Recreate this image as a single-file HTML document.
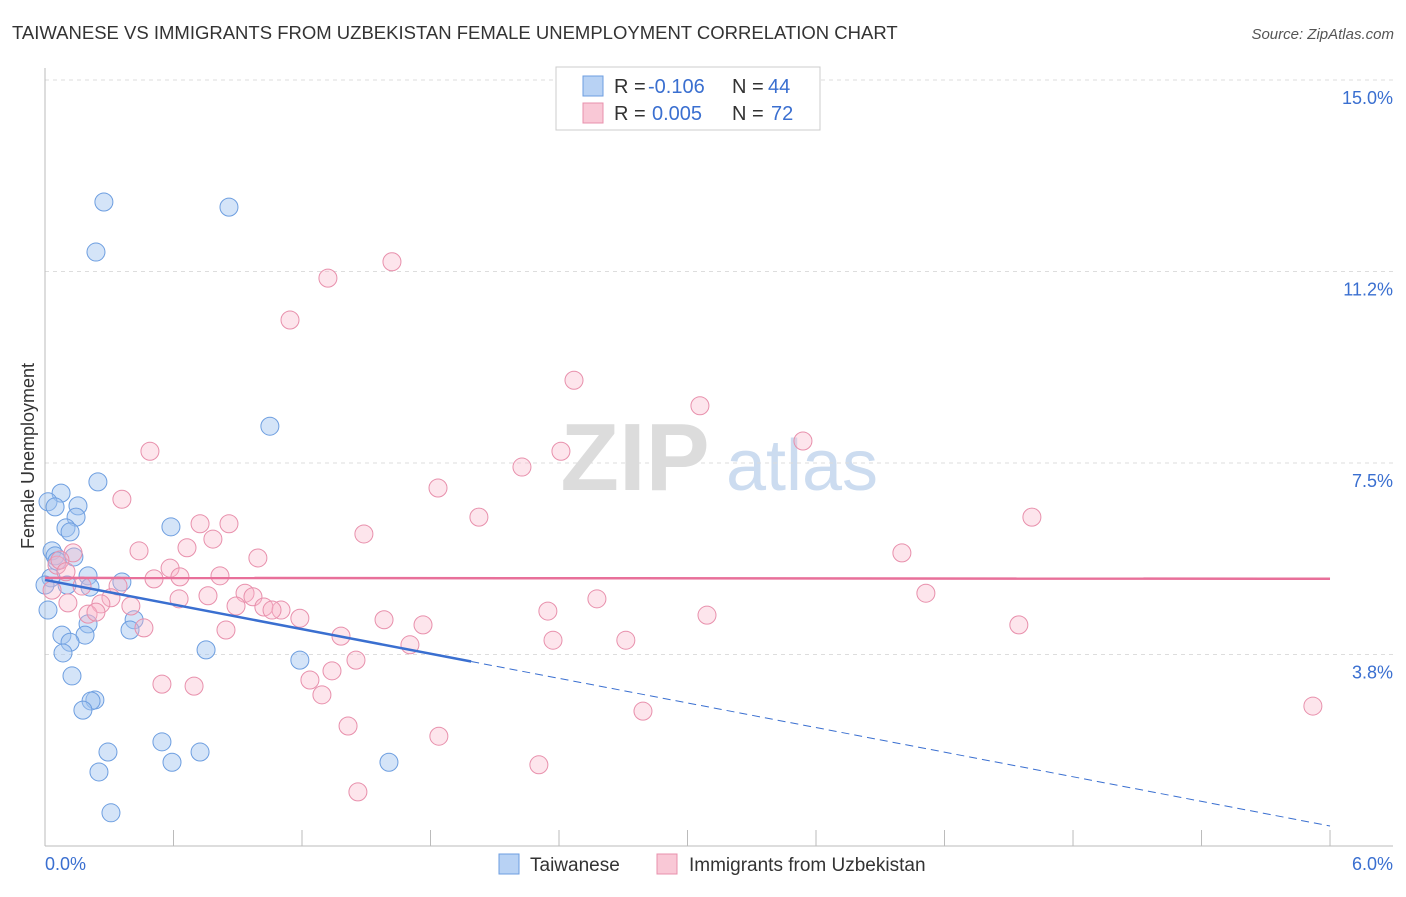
<!DOCTYPE html>
<html><head><meta charset="utf-8">
<style>
body{margin:0;background:#fff;font-family:"Liberation Sans",sans-serif;}
svg text{font-family:"Liberation Sans",sans-serif;}
</style></head>
<body>
<svg id="chart" width="1406" height="892" viewBox="0 0 1406 892" xmlns="http://www.w3.org/2000/svg">
<text x="12" y="39" font-size="18.5" fill="#333">TAIWANESE VS IMMIGRANTS FROM UZBEKISTAN FEMALE UNEMPLOYMENT CORRELATION CHART</text>
<text x="1394" y="39" font-size="15" fill="#555" font-style="italic" text-anchor="end">Source: ZipAtlas.com</text>
<g>
<text x="635" y="490" font-size="96" fill="#dcdcdc" font-family="Liberation Serif" text-anchor="middle" font-weight="bold">ZIP</text>
<text x="802" y="490" font-size="72" fill="#ccdcf0" text-anchor="middle">atlas</text>
</g>
<text transform="translate(34,456) rotate(-90)" font-size="18" fill="#333" text-anchor="middle">Female Unemployment</text>
<g id="grid"></g>
<g id="axes"></g>
<g id="pts"></g>
<g id="trends"></g>
<g>
<rect x="556" y="67" width="264" height="63" fill="#fff" stroke="#ccc"/>
<rect x="583" y="76" width="20" height="20" fill="#b8d2f4" stroke="#6d9ee0"/>
<rect x="583" y="103" width="20" height="20" fill="#f9c8d6" stroke="#e890ac"/>
<text x="614" y="93" font-size="20" fill="#333">R =</text>
<text x="648" y="93" font-size="20" fill="#3a6fd0">-0.106</text>
<text x="732" y="93" font-size="20" fill="#333">N =</text>
<text x="768" y="93" font-size="20" fill="#3a6fd0">44</text>
<text x="614" y="120" font-size="20" fill="#333">R =</text>
<text x="652" y="120" font-size="20" fill="#3a6fd0">0.005</text>
<text x="732" y="120" font-size="20" fill="#333">N =</text>
<text x="771" y="120" font-size="20" fill="#3a6fd0">72</text>
</g>
<g>
<rect x="499" y="854" width="20" height="20" fill="#b8d2f4" stroke="#6d9ee0"/>
<text x="530" y="871" font-size="19" fill="#333">Taiwanese</text>
<rect x="657" y="854" width="20" height="20" fill="#f9c8d6" stroke="#e890ac"/>
<text x="689" y="871" font-size="19" fill="#333">Immigrants from Uzbekistan</text>
</g>
</svg>
<script>
const yTicks=[3.75,7.5,11.25,15];
const yTickLabels=["3.8%","7.5%","11.2%","15.0%"];
const xTickLabels=["0.0%","6.0%"];
const blueX=[0.275,0.859,0.238,1.050,0.247,0.075,0.014,0.047,0.154,0.145,0.098,0.117,0.588,0.033,0.047,0.135,0.201,0.028,0.359,0.103,0.210,0.014,0.416,0.201,0.397,0.079,0.187,0.117,0.752,0.084,1.190,0.126,0.233,0.215,0.177,0.546,0.294,0.724,0.593,1.606,0.252,0.308,0.056,0.0];
const blueY=[12.61,12.51,11.63,8.22,7.13,6.91,6.74,6.64,6.66,6.44,6.23,6.15,6.25,5.78,5.68,5.66,5.29,5.25,5.17,5.11,5.07,4.62,4.43,4.35,4.23,4.13,4.13,3.99,3.84,3.78,3.64,3.33,2.86,2.84,2.66,2.04,1.84,1.84,1.64,1.64,1.45,0.65,5.58,5.11];
const pinkX=[1.620,1.321,1.144,2.470,3.058,3.539,0.490,2.409,2.227,1.835,0.359,2.026,4.608,0.724,0.859,1.489,0.784,0.663,0.439,4.001,0.994,0.131,0.056,0.584,0.509,0.630,0.817,0.341,0.033,0.173,0.934,0.761,0.971,0.308,4.113,0.626,2.577,0.107,0.261,0.401,0.892,1.022,1.102,1.060,2.348,3.091,0.201,1.190,1.583,1.765,4.547,0.462,0.845,1.382,2.372,2.712,1.704,1.452,1.340,0.546,0.696,1.237,1.293,2.792,5.920,1.415,1.839,2.306,1.461,0.070,0.238,0.098];
const pinkY=[11.44,11.12,10.30,9.12,8.62,7.93,7.73,7.73,7.42,7.01,6.79,6.44,6.44,6.31,6.31,6.11,6.01,5.84,5.78,5.74,5.64,5.74,5.50,5.44,5.23,5.27,5.29,5.09,5.01,5.09,4.95,4.90,4.88,4.86,4.95,4.84,4.84,4.76,4.74,4.70,4.70,4.68,4.62,4.62,4.60,4.52,4.54,4.46,4.43,4.33,4.33,4.27,4.23,4.11,4.03,4.03,3.94,3.64,3.43,3.17,3.13,3.25,2.96,2.64,2.74,2.35,2.15,1.59,1.06,5.60,4.58,5.37];
const blueTrend=[5.21,-0.803];
const pinkTrend=[5.25,-0.003];
const NS='http://www.w3.org/2000/svg';
const X=v=>45+v*214.17;
const Y=v=>846-v*51.07;
function mk(t,a,p){const e=document.createElementNS(NS,t);for(const k in a)e.setAttribute(k,a[k]);p.appendChild(e);return e;}
const grid=document.getElementById('grid'),axes=document.getElementById('axes'),pts=document.getElementById('pts'),tr=document.getElementById('trends');
yTicks.forEach((t,i)=>{
 const l=mk('line',{x1:45,x2:1393,y1:Y(t),y2:Y(t),stroke:'#ddd','stroke-dasharray':'4,4'},grid);
 
 
 const tx=mk('text',{x:1393,y:Y(t)+24,'font-size':18,fill:'#3a6fd0','text-anchor':'end'},axes);
 tx.textContent=yTickLabels[i];
 
 
});
const ax=mk('line',{x1:45,x2:1393,y1:846,y2:846,stroke:'#bbb'},axes);


const ay=mk('line',{x1:45,x2:45,y1:68,y2:846,stroke:'#bbb'},axes);


for(let k=1;k<=10;k++){const tk=mk('line',{x1:X(k*0.6),x2:X(k*0.6),y1:830,y2:846,stroke:'#bbb'},axes);
 
 }
[[0,'start',45],[6,'end',1393]].forEach((d,i)=>{const tx=mk('text',{x:d[2],y:870,'font-size':18,fill:'#3a6fd0','text-anchor':d[1]},axes);
 tx.textContent=xTickLabels[i];
 
 });
function dots(xs,ys,fill,stroke,name){xs.forEach((x,i)=>{const c=mk('circle',{cx:X(x),cy:Y(ys[i]),r:9,fill:fill,stroke:stroke,'stroke-width':1},pts);
 
 });}
dots(blueX,blueY,'rgba(160,196,240,0.45)','#6d9ee0','taiwanese-point');
dots(pinkX,pinkY,'rgba(248,180,200,0.35)','#e890ac','uzbekistan-point');
const f=(t,x)=>t[0]+t[1]*x;
const b1=mk('line',{x1:X(0),y1:Y(f(blueTrend,0)),x2:X(1.99),y2:Y(f(blueTrend,1.99)),stroke:'#3a6fd0','stroke-width':2.5},tr);


const b2=mk('line',{x1:X(1.99),y1:Y(f(blueTrend,1.99)),x2:X(6),y2:Y(f(blueTrend,6)),stroke:'#3a6fd0','stroke-width':1,'stroke-dasharray':'8,5'},tr);


const p1=mk('line',{x1:X(0),y1:Y(f(pinkTrend,0)),x2:X(6),y2:Y(f(pinkTrend,6)),stroke:'#e8709a','stroke-width':2.5},tr);


</script>
</body></html>
